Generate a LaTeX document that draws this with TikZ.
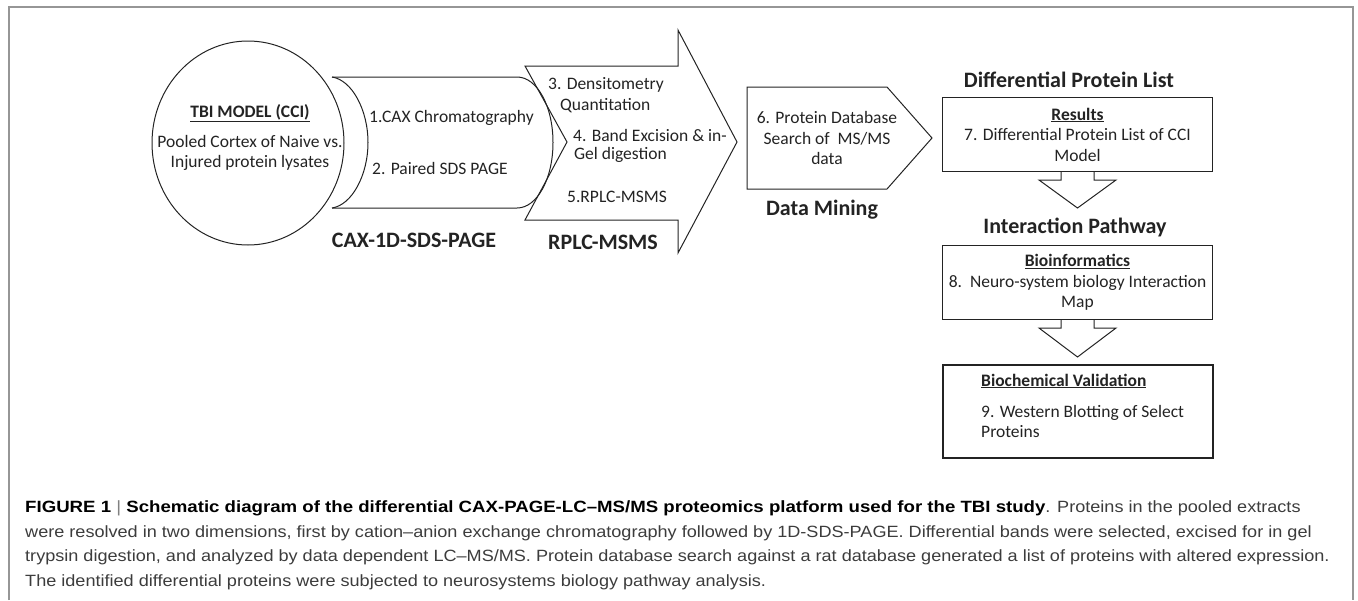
\documentclass[tikz,border=0pt]{standalone}
\usepackage{fontspec}
\setmainfont{Carlito}
\newfontfamily\capfont{Liberation Sans}
\usetikzlibrary{shapes.geometric}
\definecolor{framegray}{RGB}{150,150,150}
\definecolor{ink}{RGB}{35,35,35}
\definecolor{captext}{RGB}{60,60,60}
\tikzset{
    outline/.style={draw=ink, line width=1pt},
    body/.style={font=\fontsize{17.5}{20.5}\selectfont, text=ink, inner sep=0pt},
    heading/.style={font=\fontsize{22}{24}\selectfont\bfseries, text=ink, inner sep=0pt},
    blockarrow/.style={draw=ink, line width=1pt, line join=miter},
    stagebox/.style={outline, minimum width=270pt, minimum height=74pt, anchor=north west},
    capline/.style={anchor=base west, inner sep=0pt, text=captext, font=\capfont\fontsize{16.3}{20}\selectfont}
}
\newcommand{\ulbf}[1]{\underline{\textbf{#1}}}
\newcommand{\wide}[1]{\scalebox{1.11}[1]{#1}}
\newcommand{\widebf}[1]{\scalebox{1.03}[1]{\color{black}\bfseries #1}}

\begin{document}
\begin{tikzpicture}[x=1pt, y=-1pt]
\useasboundingbox (0,0) rectangle (1358,600);
\draw[framegray, line width=2pt] (9,600) -- (9,7) -- (1353,7) -- (1353,600);

% sample and first separation
\draw[outline] (332,77) -- (517,77) .. controls (537,77) and (553,106) .. (553,142.5)
  .. controls (553,179) and (537,208) .. (517,208) -- (332,208);
\draw[outline] (332,77) .. controls (352,80) and (368,110) .. (368,142.5)
  .. controls (368,175) and (352,205) .. (332,208);
\node[outline, ellipse, minimum width=192pt, minimum height=204pt, inner sep=0pt] (tbi) at (248,143) {};
\node[body] (tbititle) at (250,113) {\ulbf{TBI MODEL (CCI)}};
\node[body, align=center] (tbitext) at (250,153) {Pooled Cortex of Naive vs.\\Injured protein lysates};
\node[body, anchor=west] (step1) at (369,118) {1.CAX Chromatography};
\node[body, anchor=west] (step2) at (372,168) {2. Paired SDS PAGE};
\node[heading] (caxlabel) at (414,240) {CAX-1D-SDS-PAGE};

% mass spec
\draw[blockarrow] (525,66) -- (678,66) -- (678,30) -- (737,142) -- (678,253) -- (678,220)
  -- (525,220) -- (567,142) -- cycle;
\node[body, anchor=west] (step3) at (548,85) {3. Densitometry};
\node[body, anchor=west] (step3b) at (560,106) {Quantitation};
\node[body, anchor=west] (step4) at (573,135) {4. Band Excision \& in-};
\node[body, anchor=west] (step4b) at (574,155) {Gel digestion};
\node[body, anchor=west] (step5) at (567,197) {5.RPLC-MSMS};
\node[heading] (mslabel) at (603,242) {RPLC-MSMS};

% data mining
\draw[blockarrow] (747,87) -- (887,87) -- (932,138) -- (887,189) -- (747,189) -- cycle;
\node[body, align=center] (step6) at (827,138) {6. Protein Database\\Search of~~MS/MS\\data};
\node[heading] (minelabel) at (822,210) {Data Mining};

% results column
\node[heading] (listlabel) at (1069,80) {Differential Protein List};
\node[stagebox] (results) at (942,97) {};
\node[body, align=center] (step7) at (results.center) {\ulbf{Results}\\7. Differential Protein List of CCI\\Model};
\draw[blockarrow] ([xshift=-16.5pt]results.south) -- ++(0,8) -- ++(-22,0) -- ++(38.5,28)
  -- ++(38.5,-28) -- ++(-22,0) -- ++(0,-8);
\node[heading] (pathlabel) at (1075,227) {Interaction Pathway};
\node[stagebox] (bioinf) at (942,245) {};
\node[body, align=center] (step8) at (bioinf.center) {\ulbf{Bioinformatics}\\8.~~Neuro-system biology Interaction\\Map};
\draw[blockarrow] ([xshift=-16.5pt]bioinf.south) -- ++(0,8) -- ++(-22,0) -- ++(38.5,29)
  -- ++(38.5,-29) -- ++(-22,0) -- ++(0,-8);
\node[stagebox, line width=2pt, minimum height=93pt] (valid) at (942,364) {};
\node[body, anchor=west] (step9h) at (981,381) {\ulbf{Biochemical Validation}};
\node[body, anchor=west, align=left] (step9) at (981,421.5) {9. Western Blotting of Select\\Proteins};

% caption
\node[capline] (cap1) at (25,512.5) {\wide{\widebf{FIGURE 1 {\color{gray}\mdseries|} Schematic diagram of the differential CAX-PAGE-LC–MS/MS proteomics platform used for the TBI study}. Proteins in the pooled extracts}};
\node[capline] (cap2) at (25,537) {\wide{were resolved in two dimensions, first by cation–anion exchange chromatography followed by 1D-SDS-PAGE. Differential bands were selected, excised for in gel}};
\node[capline] (cap3) at (25,561.5) {\wide{trypsin digestion, and analyzed by data dependent LC–MS/MS. Protein database search against a rat database generated a list of proteins with altered expression.}};
\node[capline] (cap4) at (25,586) {\wide{The identified differential proteins were subjected to neurosystems biology pathway analysis.}};
\end{tikzpicture}
\end{document}
